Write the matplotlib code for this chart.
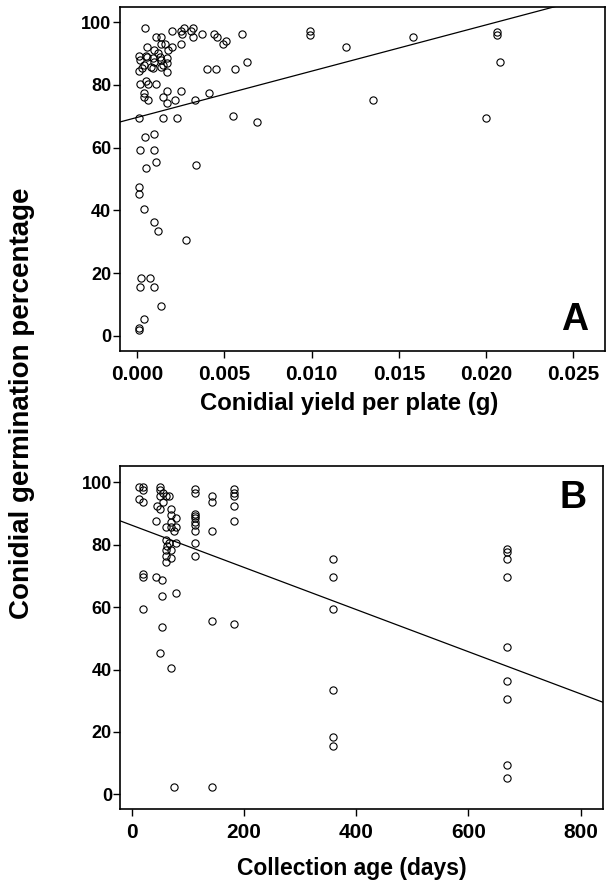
import matplotlib
matplotlib.use("Agg")
import matplotlib.pyplot as plt
import numpy as np

plt.rcParams['font.family'] = ['Liberation Sans', 'DejaVu Sans']
plt.rcParams['font.weight'] = 'bold'

# Panel A: conidial yield per plate (g) vs germination (%)
yield_g = [0.00048, 0.0011, 0.0014, 0.0020, 0.0025, 0.0027, 0.0031, 0.0032, 0.0032, 0.0037,
           0.0044, 0.0046, 0.0049, 0.0051, 0.0060, 0.0099, 0.0099, 0.00057, 0.00095, 0.0014,
           0.0016, 0.0018, 0.0020, 0.0025, 0.0001, 0.00055, 0.0009, 0.0013, 0.0017, 0.0002,
           0.0010, 0.0014, 0.0017, 0.0004, 0.0003, 0.0009, 0.0008, 0.0014, 0.0001, 0.0017,
           0.0015, 0.0005, 0.0040, 0.0045, 0.0056, 0.0063, 0.00015, 0.0005, 0.00066, 0.0011,
           0.00043, 0.0004, 0.00066, 0.0015, 0.0017, 0.0017, 0.0022, 0.0025, 0.0033, 0.0041,
           0.0001, 0.0015, 0.0023, 0.0055, 0.0069, 0.00047, 0.0010, 0.00015, 0.0010, 0.0011,
           0.0005, 0.0034, 0.0120, 0.0158, 0.0206, 0.0206, 0.0208, 0.0135, 0.0200, 0.0001,
           0.00013, 0.0004, 0.00095, 0.0012, 0.0028, 0.00025, 0.00074, 0.00015, 0.00095, 0.0014,
           0.00043, 0.0001, 0.0001, 0.0026, 0.0012]
germ_a = [98.2, 95.1, 95.1, 97.1, 97.1, 98.2, 97.1, 98.2, 95.1, 96.1,
          96.1, 95.1, 93.1, 94.0, 96.1, 97.3, 95.9, 92.1, 91.1, 93.1,
          93.1, 91.1, 92.1, 93.1, 89.3, 89.0, 88.6, 89.0, 88.4, 87.9,
          87.4, 87.9, 86.8, 86.3, 85.4, 85.4, 85.8, 85.8, 84.5, 84.2,
          86.3, 89.2, 85.1, 85.1, 85.1, 87.2, 80.2, 81.2, 80.2, 80.2,
          77.3, 76.2, 75.2, 76.2, 78.1, 74.2, 75.2, 78.1, 75.2, 77.3,
          69.3, 69.3, 69.3, 70.2, 68.2, 63.3, 64.2, 59.2, 59.2, 55.3,
          53.4, 54.4, 92.1, 95.1, 96.9, 96.0, 87.2, 75.2, 69.3, 47.4,
          45.2, 40.3, 36.3, 33.3, 30.4, 18.5, 18.5, 15.5, 15.5, 9.6,
          5.5, 2.5, 2.0, 96.1, 90.1]

# Panel B: collection age (days) vs germination (%)
age_days = [13, 13, 20, 20, 20, 20, 20, 20,
            43, 43, 44, 49, 49, 49, 49, 50,
            56, 55, 54, 54, 54,
            61, 61, 61, 61, 61, 61, 63,
            65, 65, 70, 70, 70, 70, 70, 70, 70,
            74, 74, 78, 78, 78, 78,
            113, 113, 113, 113, 113, 113, 113, 113, 113, 113,
            143, 143, 143, 143, 143,
            181, 181, 181, 181, 181, 181,
            358, 358, 358, 358, 358, 358,
            669, 669, 669, 669, 669, 669, 669, 669, 669]
germ_b = [98.6, 94.6, 98.6, 97.5, 93.6, 70.6, 69.6, 59.5,
          87.6, 69.6, 92.5, 98.6, 97.5, 95.6, 45.4, 91.4,
          96.5, 93.6, 68.7, 63.6, 53.7,
          95.6, 85.8, 81.5, 78.3, 76.4, 74.6, 79.6,
          95.6, 80.4, 91.4, 89.5, 87.4, 85.6, 75.6, 78.2, 40.4,
          84.5, 2.4, 88.5, 85.6, 80.4, 64.4,
          97.8, 96.5, 89.7, 89.2, 88.5, 87.4, 86.3, 84.5, 80.4, 76.4,
          95.6, 93.6, 84.5, 55.5, 2.4,
          97.8, 96.7, 95.6, 92.5, 87.6, 54.5,
          75.4, 69.6, 59.5, 33.4, 18.5, 15.5,
          78.6, 77.6, 75.4, 69.6, 47.3, 36.4, 30.4, 9.4, 5.3]

# Fitted regression lines
line_a_intercept, line_a_slope = 69.6, 1475.0
line_b_intercept, line_b_slope = 86.2, -0.0675

yticks = [0, 20, 40, 60, 80, 100]
xticks_a = [0.000, 0.005, 0.010, 0.015, 0.020, 0.025]
xticks_b = [0, 200, 400, 600, 800]

fig = plt.figure(figsize=(6.06, 8.96), dpi=100)
axA = fig.add_axes([0.1972, 0.6083, 0.801, 0.3839])
axB = fig.add_axes([0.1985, 0.0971, 0.7965, 0.3831])

xtick_fs = 15
ytick_fs = 13
W, H = 606.0, 896.0

def style(ax):
    for s in ax.spines.values():
        s.set_linewidth(1.2)
        s.set_color('black')
    ax.tick_params(axis='both', direction='out', length=5, width=1.0,
                   top=False, right=False)
    ax.tick_params(axis='x', labelsize=xtick_fs, pad=5)
    ax.tick_params(axis='y', labelsize=ytick_fs, pad=1)
    for lab in ax.get_xticklabels() + ax.get_yticklabels():
        lab.set_fontweight('bold')

# Panel A
axA.plot(yield_g, germ_a, linestyle='none', marker='o', mfc='none', mec='black',
         ms=5.2, mew=0.8)
xa = np.array([-0.002, 0.03])
axA.plot(xa, line_a_intercept + line_a_slope * xa, color='black', lw=0.9)
axA.set_xlim(-0.001, 0.0268)
axA.set_ylim(-4.8, 104.8)
axA.set_xticks(xticks_a)
axA.set_xticklabels([f"{v:.3f}" for v in xticks_a])
axA.set_yticks(yticks)
axA.set_yticklabels([str(v) for v in yticks])
style(axA)
axA.text(0.938, 0.09, "A", transform=axA.transAxes, fontsize=27, fontweight='bold',
         ha='center', va='center')

# Panel B
axB.plot(age_days, germ_b, linestyle='none', marker='o', mfc='none', mec='black',
         ms=5.2, mew=0.8)
xb = np.array([-50, 900])
axB.plot(xb, line_b_intercept + line_b_slope * xb, color='black', lw=0.9)
axB.set_xlim(-21, 840)
axB.set_ylim(-4.7, 105.3)
axB.set_xticks(xticks_b)
axB.set_xticklabels([str(v) for v in xticks_b])
axB.set_yticks(yticks)
axB.set_yticklabels([str(v) for v in yticks])
style(axB)
axB.text(0.938, 0.906, "B", transform=axB.transAxes, fontsize=27, fontweight='bold',
         ha='center', va='center')

# Axis titles placed at pixel positions
fig.text(349 / W, 1 - 403 / H, "Conidial yield per plate (g)", fontsize=17.2,
         fontweight='bold', ha='center', va='center')
fig.text(352 / W, 1 - 868 / H, "Collection age (days)", fontsize=16.5,
         fontweight='bold', ha='center', va='center')
fig.text(22 / W, 1 - 403 / H, "Conidial germination percentage", rotation=90,
         fontsize=20, fontweight='bold', ha='center', va='center')

fig.savefig("out.png", dpi=100)
